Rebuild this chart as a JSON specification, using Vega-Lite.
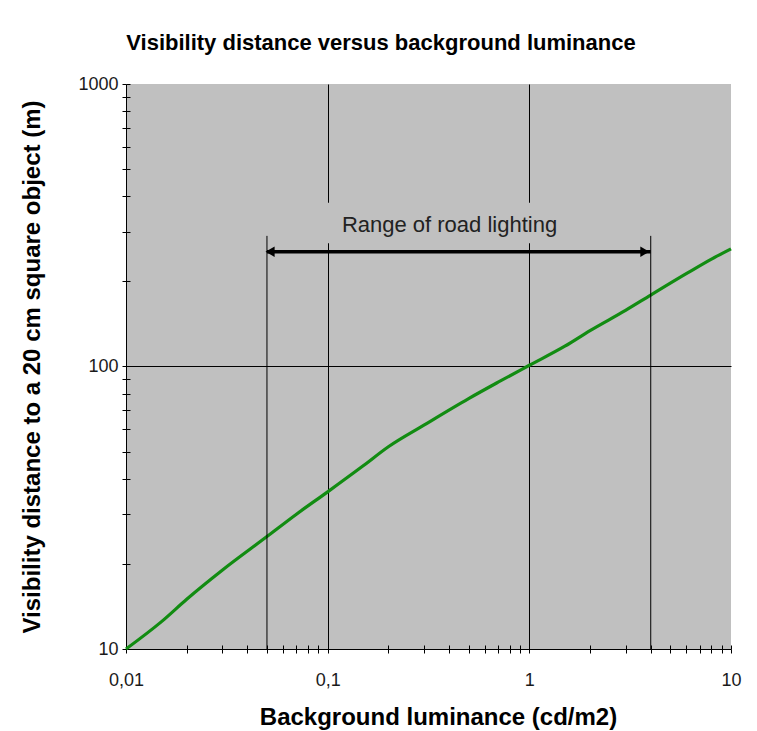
{
  "$schema": "https://vega.github.io/schema/vega-lite/v6.json",
  "width": 605,
  "height": 565,
  "autosize": {"type": "none"},
  "padding": {"left": 126, "top": 84, "right": 26, "bottom": 82},
  "background": "white",
  "title": {
    "text": "Visibility distance versus background luminance",
    "font": "Liberation Sans",
    "fontSize": 22,
    "fontWeight": "bold",
    "color": "black",
    "anchor": "middle",
    "frame": "bounds",
    "offset": 20
  },
  "config": {
    "view": {"fill": "#c0c0c0", "stroke": null},
    "font": "Liberation Sans"
  },
  "datasets": {
    "curve": [
      {"lum": 0.01, "dist": 10},
      {"lum": 0.015, "dist": 12.5},
      {"lum": 0.02, "dist": 15},
      {"lum": 0.03, "dist": 19},
      {"lum": 0.05, "dist": 25},
      {"lum": 0.07, "dist": 30},
      {"lum": 0.1, "dist": 36},
      {"lum": 0.15, "dist": 44.5},
      {"lum": 0.2, "dist": 52},
      {"lum": 0.3, "dist": 62},
      {"lum": 0.5, "dist": 77},
      {"lum": 0.7, "dist": 88},
      {"lum": 1, "dist": 101},
      {"lum": 1.5, "dist": 118},
      {"lum": 2, "dist": 134},
      {"lum": 3, "dist": 158},
      {"lum": 4, "dist": 179},
      {"lum": 6, "dist": 213},
      {"lum": 8, "dist": 240},
      {"lum": 10, "dist": 261}
    ],
    "markers": [
      {"lum": 0.05, "lo": 10, "hi": 290},
      {"lum": 4, "lo": 10, "hi": 290}
    ],
    "box": [{"x1": 0.088, "x2": 1.3, "y1": 273, "y2": 380}],
    "arrow": [{"from": 0.05, "to": 4, "dist": 255}],
    "heads": [
      {"lum": 0.0518, "dist": 255, "side": "left"},
      {"lum": 3.74, "dist": 255, "side": "right"}
    ],
    "label": [{"lum": 0.402, "dist": 317, "text": "Range of road lighting"}]
  },
  "layer": [
    {
      "data": {"name": "curve"},
      "mark": {"type": "line", "color": "#128c12", "strokeWidth": 3.2, "interpolate": "monotone"},
      "encoding": {
        "x": {
          "field": "lum",
          "type": "quantitative",
          "scale": {"type": "log", "domain": [0.01, 10], "nice": false},
          "axis": {
            "orient": "bottom",
            "values": [0.01, 0.02, 0.03, 0.04, 0.05, 0.06, 0.07, 0.08, 0.09, 0.1, 0.2, 0.3, 0.4, 0.5, 0.6, 0.7, 0.8, 0.9, 1, 2, 3, 4, 5, 6, 7, 8, 9, 10],
            "labelExpr": "abs(log(datum.value)/LN10 - round(log(datum.value)/LN10)) < 0.001 ? replace(toString(datum.value), '.', ',') : ''",
            "labelFontSize": 18,
            "labelColor": "#1a1a1a",
            "labelPadding": 18,
            "labelOverlap": false,
            "labelFlush": false,
            "tickSize": 4,
            "tickColor": "black",
            "domainColor": "black",
            "grid": true,
            "gridColor": "black",
            "gridOpacity": {"condition": {"test": "abs(datum.value - 0.1) < 0.001 || abs(datum.value - 1) < 0.001", "value": 1}, "value": 0},
            "title": "Background luminance (cd/m2)",
            "titleFontSize": 24,
            "titleFontWeight": "bold",
            "titleColor": "black",
            "titlePadding": 16,
            "titleX": 312
          }
        },
        "y": {
          "field": "dist",
          "type": "quantitative",
          "scale": {"type": "log", "domain": [10, 1000], "nice": false},
          "axis": {
            "orient": "left",
            "values": [10, 20, 30, 40, 50, 60, 70, 80, 90, 100, 200, 300, 400, 500, 600, 700, 800, 900, 1000],
            "labelExpr": "abs(log(datum.value)/LN10 - round(log(datum.value)/LN10)) < 0.001 ? toString(datum.value) : ''",
            "labelFontSize": 18,
            "labelColor": "#1a1a1a",
            "labelPadding": 4,
            "labelOverlap": false,
            "labelFlush": false,
            "tickSize": 4,
            "tickColor": "black",
            "domainColor": "black",
            "grid": true,
            "gridColor": "black",
            "gridOpacity": {"condition": {"test": "abs(datum.value - 100) < 0.01", "value": 1}, "value": 0},
            "title": "Visibility distance to a 20 cm square object (m)",
            "titleFontSize": 24,
            "titleFontWeight": "bold",
            "titleColor": "black",
            "titlePadding": 33
          }
        }
      }
    },
    {
      "data": {"name": "box"},
      "mark": {"type": "rect", "color": "#c0c0c0"},
      "encoding": {
        "x": {"field": "x1", "type": "quantitative", "axis": null},
        "x2": {"field": "x2"},
        "y": {"field": "y1", "type": "quantitative", "axis": null},
        "y2": {"field": "y2"}
      }
    },
    {
      "data": {"name": "markers"},
      "mark": {"type": "rule", "color": "black", "strokeWidth": 1},
      "encoding": {
        "x": {
          "field": "lum",
          "type": "quantitative",
          "axis": {
            "orient": "bottom",
            "values": [0.01, 0.02, 0.03, 0.04, 0.05, 0.06, 0.07, 0.08, 0.09, 0.1, 0.2, 0.3, 0.4, 0.5, 0.6, 0.7, 0.8, 0.9, 1, 2, 3, 4, 5, 6, 7, 8, 9, 10],
            "tickSize": -4,
            "tickColor": "black",
            "labels": false,
            "domain": false,
            "grid": false,
            "title": null
          }
        },
        "y": {
          "field": "lo",
          "type": "quantitative",
          "axis": {
            "orient": "left",
            "values": [10, 20, 30, 40, 50, 60, 70, 80, 90, 100, 200, 300, 400, 500, 600, 700, 800, 900, 1000],
            "tickSize": -4,
            "tickColor": "black",
            "labels": false,
            "domain": false,
            "grid": false,
            "title": null
          }
        },
        "y2": {"field": "hi"}
      }
    },
    {
      "data": {"name": "arrow"},
      "mark": {"type": "rule", "color": "black", "strokeWidth": 3.5},
      "encoding": {
        "x": {"field": "from", "type": "quantitative", "axis": null},
        "x2": {"field": "to"},
        "y": {"field": "dist", "type": "quantitative", "axis": null}
      }
    },
    {
      "data": {"name": "heads"},
      "mark": {"type": "point", "filled": true, "color": "black", "opacity": 1, "size": 110},
      "encoding": {
        "x": {"field": "lum", "type": "quantitative", "axis": null},
        "y": {"field": "dist", "type": "quantitative", "axis": null},
        "shape": {"field": "side", "type": "nominal", "scale": {"domain": ["left", "right"], "range": ["triangle-left", "triangle-right"]}, "legend": null}
      }
    },
    {
      "data": {"name": "label"},
      "mark": {"type": "text", "fontSize": 22, "color": "#222222", "align": "center", "baseline": "middle"},
      "encoding": {
        "x": {"field": "lum", "type": "quantitative", "axis": null},
        "y": {"field": "dist", "type": "quantitative", "axis": null},
        "text": {"field": "text"}
      }
    }
  ],
  "resolve": {"axis": {"x": "independent", "y": "independent"}}
}
